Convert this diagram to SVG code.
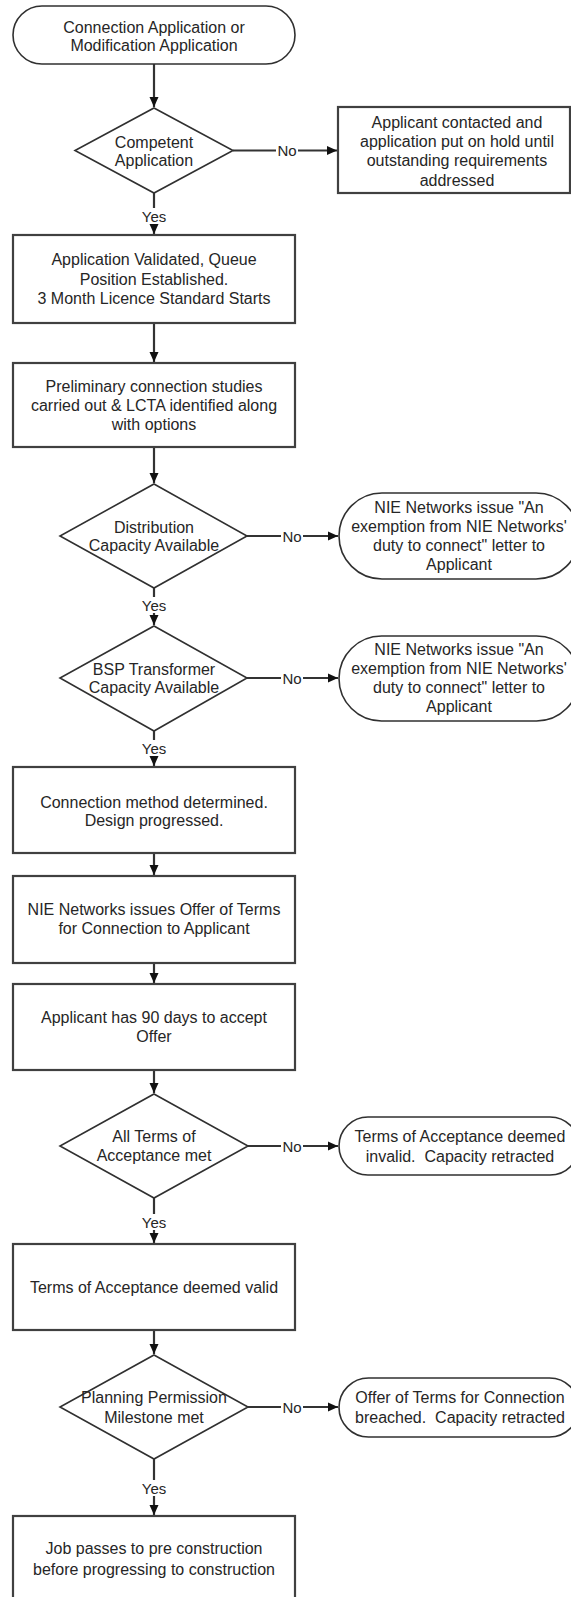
<svg xmlns="http://www.w3.org/2000/svg" width="571" height="1597" viewBox="0 0 571 1597">
<style>
  .box{fill:#fff;stroke:#404040;stroke-width:2.2}
  .term{fill:#fff;stroke:#303030;stroke-width:1.6}
  .dia{fill:#fff;stroke:#303030;stroke-width:1.6}
  .t{font-family:"Liberation Sans",Arial,sans-serif;font-size:16px;fill:#262626;text-anchor:middle;dominant-baseline:central;white-space:pre}
  .lbl{font-family:"Liberation Sans",Arial,sans-serif;font-size:15px;fill:#262626;text-anchor:middle;dominant-baseline:central}
  .c{stroke:#333;stroke-width:2.2;fill:none}
  .lb{fill:#fff}
</style>
<defs>
  <marker id="ah" markerUnits="userSpaceOnUse" markerWidth="10" markerHeight="10" refX="10" refY="5" orient="auto">
    <path d="M0,0.5 L10,5 L0,9.5 z" fill="#111"/>
  </marker>
</defs>

<g id="connectors">
  <line class="c" x1="154" y1="64" x2="154" y2="107" marker-end="url(#ah)"/>
  <line class="c" x1="233" y1="150.5" x2="337" y2="150.5" marker-end="url(#ah)"/>
  <line class="c" x1="154" y1="193" x2="154" y2="234" marker-end="url(#ah)"/>
  <line class="c" x1="154" y1="323" x2="154" y2="362" marker-end="url(#ah)"/>
  <line class="c" x1="154" y1="447" x2="154" y2="483" marker-end="url(#ah)"/>
  <line class="c" x1="247" y1="536" x2="338" y2="536" marker-end="url(#ah)"/>
  <line class="c" x1="154" y1="588" x2="154" y2="625" marker-end="url(#ah)"/>
  <line class="c" x1="247" y1="678" x2="338" y2="678" marker-end="url(#ah)"/>
  <line class="c" x1="154" y1="731" x2="154" y2="766" marker-end="url(#ah)"/>
  <line class="c" x1="154" y1="853" x2="154" y2="875" marker-end="url(#ah)"/>
  <line class="c" x1="154" y1="963" x2="154" y2="983" marker-end="url(#ah)"/>
  <line class="c" x1="154" y1="1070" x2="154" y2="1093" marker-end="url(#ah)"/>
  <line class="c" x1="248" y1="1146" x2="338" y2="1146" marker-end="url(#ah)"/>
  <line class="c" x1="154" y1="1198" x2="154" y2="1243" marker-end="url(#ah)"/>
  <line class="c" x1="154" y1="1330" x2="154" y2="1354" marker-end="url(#ah)"/>
  <line class="c" x1="248" y1="1407" x2="338" y2="1407" marker-end="url(#ah)"/>
  <line class="c" x1="154" y1="1459" x2="154" y2="1515" marker-end="url(#ah)"/>
  <g id="labels">
    <rect class="lb" x="276" y="142" width="22" height="17"/><text class="lbl" x="287" y="150.5">No</text>
    <rect class="lb" x="141" y="208" width="26" height="16"/><text class="lbl" x="154" y="216">Yes</text>
    <rect class="lb" x="281" y="528" width="22" height="17"/><text class="lbl" x="292" y="536">No</text>
    <rect class="lb" x="141" y="597" width="26" height="16"/><text class="lbl" x="154" y="605">Yes</text>
    <rect class="lb" x="281" y="670" width="22" height="17"/><text class="lbl" x="292" y="678">No</text>
    <rect class="lb" x="141" y="740" width="26" height="16"/><text class="lbl" x="154" y="748">Yes</text>
    <rect class="lb" x="281" y="1138" width="22" height="17"/><text class="lbl" x="292" y="1146">No</text>
    <rect class="lb" x="141" y="1214" width="26" height="16"/><text class="lbl" x="154" y="1222">Yes</text>
    <rect class="lb" x="281" y="1399" width="22" height="17"/><text class="lbl" x="292" y="1407">No</text>
    <rect class="lb" x="141" y="1480" width="26" height="16"/><text class="lbl" x="154" y="1488">Yes</text>
  </g>
</g>

<g id="start">
  <rect class="term" x="13" y="6" width="282" height="58" rx="29"/>
  <text class="t" x="154" y="27">Connection Application or</text>
  <text class="t" x="154" y="45">Modification Application</text>
</g>

<g id="competent">
  <polygon class="dia" points="154,108 233,150.5 154,193 75,150.5"/>
  <text class="t" x="154" y="142">Competent</text>
  <text class="t" x="154" y="160">Application</text>
</g>

<g id="on-hold">
  <rect class="box" x="338" y="107" width="232" height="86"/>
  <text class="t" x="457" y="122">Applicant contacted and</text>
  <text class="t" x="457" y="141">application put on hold until</text>
  <text class="t" x="457" y="160">outstanding requirements</text>
  <text class="t" x="457" y="180">addressed</text>
</g>

<g id="validated">
  <rect class="box" x="13" y="235" width="282" height="88"/>
  <text class="t" x="154" y="259">Application Validated, Queue</text>
  <text class="t" x="154" y="279">Position Established.</text>
  <text class="t" x="154" y="298">3 Month Licence Standard Starts</text>
</g>

<g id="studies">
  <rect class="box" x="13" y="363" width="282" height="84"/>
  <text class="t" x="154" y="386">Preliminary connection studies</text>
  <text class="t" x="154" y="405">carried out &amp; LCTA identified along</text>
  <text class="t" x="154" y="424">with options</text>
</g>

<g id="distribution">
  <polygon class="dia" points="154,484 247,536 154,588 60,536"/>
  <text class="t" x="154" y="527">Distribution</text>
  <text class="t" x="154" y="545">Capacity Available</text>
</g>

<g id="exemption-1">
  <rect class="term" x="339" y="493" width="240" height="86" rx="43"/>
  <text class="t" x="459" y="507.5">NIE Networks issue "An</text>
  <text class="t" x="459" y="526.5">exemption from NIE Networks'</text>
  <text class="t" x="459" y="545.5">duty to connect" letter to</text>
  <text class="t" x="459" y="564.5">Applicant</text>
</g>

<g id="bsp">
  <polygon class="dia" points="154,626 247,678 154,731 60,678"/>
  <text class="t" x="154" y="669">BSP Transformer</text>
  <text class="t" x="154" y="687">Capacity Available</text>
</g>

<g id="exemption-2">
  <rect class="term" x="339" y="636" width="240" height="85" rx="42.5"/>
  <text class="t" x="459" y="649.5">NIE Networks issue "An</text>
  <text class="t" x="459" y="668.5">exemption from NIE Networks'</text>
  <text class="t" x="459" y="687.5">duty to connect" letter to</text>
  <text class="t" x="459" y="706.5">Applicant</text>
</g>

<g id="method">
  <rect class="box" x="13" y="767" width="282" height="86"/>
  <text class="t" x="154" y="802">Connection method determined.</text>
  <text class="t" x="154" y="820">Design progressed.</text>
</g>

<g id="offer">
  <rect class="box" x="13" y="876" width="282" height="87"/>
  <text class="t" x="154" y="909">NIE Networks issues Offer of Terms</text>
  <text class="t" x="154" y="928">for Connection to Applicant</text>
</g>

<g id="accept-90">
  <rect class="box" x="13" y="984" width="282" height="86"/>
  <text class="t" x="154" y="1017">Applicant has 90 days to accept</text>
  <text class="t" x="154" y="1036">Offer</text>
</g>

<g id="terms-met">
  <polygon class="dia" points="154,1094 248,1146 154,1198 60,1146"/>
  <text class="t" x="154" y="1136">All Terms of</text>
  <text class="t" x="154" y="1155">Acceptance met</text>
</g>

<g id="invalid">
  <rect class="term" x="339" y="1117" width="240" height="58" rx="29"/>
  <text class="t" x="460" y="1136">Terms of Acceptance deemed</text>
  <text class="t" x="460" y="1156" xml:space="preserve">invalid.  Capacity retracted</text>
</g>

<g id="valid">
  <rect class="box" x="13" y="1244" width="282" height="86"/>
  <text class="t" x="154" y="1287">Terms of Acceptance deemed valid</text>
</g>

<g id="planning">
  <polygon class="dia" points="154,1355 248,1407 154,1459 60,1407"/>
  <text class="t" x="154" y="1397">Planning Permission</text>
  <text class="t" x="154" y="1417">Milestone met</text>
</g>

<g id="breached">
  <rect class="term" x="339" y="1378" width="240" height="59" rx="29.5"/>
  <text class="t" x="460" y="1397">Offer of Terms for Connection</text>
  <text class="t" x="460" y="1417" xml:space="preserve">breached.  Capacity retracted</text>
</g>

<g id="pre-construction">
  <rect class="box" x="13" y="1516" width="282" height="88"/>
  <text class="t" x="154" y="1548">Job passes to pre construction</text>
  <text class="t" x="154" y="1569">before progressing to construction</text>
</g>
</svg>
